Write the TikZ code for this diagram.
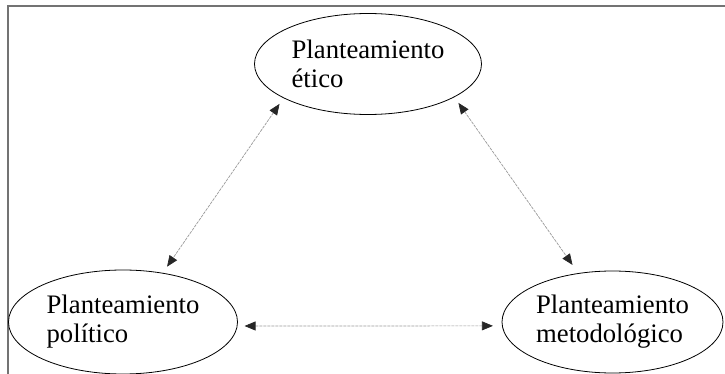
\documentclass[tikz,border=0pt]{standalone}
\usepackage{fontspec}
\setmainfont{Liberation Serif}
\usetikzlibrary{shapes.geometric,arrows.meta}
\begin{document}
\begin{tikzpicture}[x=1pt,y=-1pt,
  oval/.style={ellipse, draw=black, line width=0.8pt, inner sep=0pt, align=left,
    font=\fontsize{26.7}{29}\selectfont},
  link/.style={draw=black!40, line width=0.7pt, dash pattern=on 3pt off 1pt,
    {Triangle[length=11pt,width=9pt,color=black!85]}-{Triangle[length=11pt,width=9pt,color=black!85]}},
  framestyle/.style={draw=black!55, line width=1.1pt}]
\useasboundingbox (0,0) rectangle (725,374);
\draw[framestyle] (727,6) -- (8,6) -- (8,378);
\node[oval, minimum width=227pt, minimum height=101pt] (eth) at (368,64) {Planteamiento\\ético};
\node[oval, minimum width=229pt, minimum height=104pt] (pol) at (123,322) {Planteamiento\\político};
\node[oval, minimum width=221pt, minimum height=102pt] (met) at (612.5,322) {Planteamiento\\metodológico};
\draw[link, shorten <=7pt, shorten >=7.5pt] (eth.202) -- (pol.51);
\draw[link, shorten <=7pt, shorten >=10pt] (eth.339) -- (met.125);
\draw[link, shorten <=7pt, shorten >=9pt] (pol.-2) -- (met.182);
\end{tikzpicture}
\end{document}
